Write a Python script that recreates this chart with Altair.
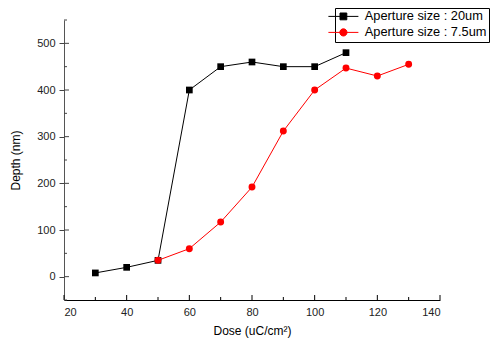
import altair as alt
import pandas as pd

dose_a = [30, 40, 50, 60, 70, 80, 90, 100, 110]
depth_a = [8, 20, 35, 400, 450, 460, 450, 450, 480]
dose_b = [50, 60, 70, 80, 90, 100, 110, 120, 130]
depth_b = [35, 60, 117, 192, 312, 400, 447, 430, 455]
series_names = ["Aperture size : 20um", "Aperture size : 7.5um"]
series_colors = ["#000000", "#ff0000"]

x_major = [20, 40, 60, 80, 100, 120, 140]
x_minor = [30, 50, 70, 90, 110, 130]
y_major = [0, 100, 200, 300, 400, 500]
y_minor = [-50, 50, 150, 250, 350, 450, 550]

df = pd.DataFrame({
    "dose": dose_a + dose_b,
    "depth": depth_a + depth_b,
    "series": [series_names[0]] * len(dose_a) + [series_names[1]] * len(dose_b),
})

FONT = "Liberation Sans"
W, H = 376, 280

xs = alt.Scale(domain=[20, 140], nice=False, zero=False)
ys = alt.Scale(domain=[-50, 550], nice=False, zero=False)

x_axis = alt.Axis(values=x_major, ticks=False, labelPadding=6, labelFontSize=11,
                  labelColor="#222", domainColor="#000", titleFontSize=12, titleFontWeight="normal",
                  titlePadding=8, titleColor="#000", grid=False, labelFont=FONT, titleFont=FONT,
                  title="Dose (uC/cm²)")
y_axis = alt.Axis(values=y_major, tickSize=5, tickColor="#444", labelPadding=4, labelFontSize=11,
                  labelColor="#222", domainColor="#555", titleFontSize=12, titleFontWeight="normal",
                  titlePadding=14, titleColor="#000", grid=False, labelFont=FONT, titleFont=FONT,
                  title="Depth (nm)")

base = alt.Chart(df)

# colour scale without an explicit domain so its (disabled) legend is not merged with the real one
lines = base.mark_line(strokeWidth=1).encode(
    x=alt.X("dose:Q", scale=xs, axis=x_axis),
    y=alt.Y("depth:Q", scale=ys, axis=y_axis),
    color=alt.Color("series:N", scale=alt.Scale(range=series_colors), legend=None),
    detail="series:N",
)

squares = base.transform_filter(alt.datum.series == series_names[0]).mark_square(
    size=45, opacity=1, color=series_colors[0]
).encode(x="dose:Q", y="depth:Q")

circles = base.transform_filter(alt.datum.series == series_names[1]).mark_circle(
    size=48, opacity=1, color=series_colors[1]
).encode(x="dose:Q", y="depth:Q")

sq_path = "M-3.75,0H3.75M-0.85,-0.85H0.85V0.85H-0.85Z"
ci_path = "M-3.75,0H3.75M-0.9,0A0.9,0.9,0,1,1,0.9,0A0.9,0.9,0,1,1,-0.9,0Z"

leg = alt.Legend(title=None, orient="none", legendX=271, legendY=-12,
                 strokeColor="#000", fillColor="#fff", padding=2,
                 labelFont=FONT, labelFontSize=12.8, labelColor="#000",
                 symbolSize=64, symbolStrokeWidth=1, labelOffset=15, rowPadding=2)

legend_layer = base.transform_filter("false").mark_point(filled=True, opacity=1, strokeWidth=1).encode(
    x="dose:Q", y="depth:Q",
    fill=alt.Fill("series:N", scale=alt.Scale(domain=series_names, range=series_colors), legend=leg),
    stroke=alt.Stroke("series:N", scale=alt.Scale(domain=series_names, range=series_colors), legend=leg),
    shape=alt.Shape("series:N", scale=alt.Scale(domain=series_names, range=[sq_path, ci_path]), legend=leg),
)

xt_major = pd.DataFrame({"v": x_major})
xt_minor = pd.DataFrame({"v": x_minor})
yt_major = pd.DataFrame({"v": y_major})
yt_minor = pd.DataFrame({"v": y_minor})

xtick_major = alt.Chart(xt_major).mark_rule(color="#000", strokeWidth=1).encode(
    x=alt.X("v:Q", scale=xs), y=alt.value(H), y2=alt.value(H - 5))
xtick_minor = alt.Chart(xt_minor).mark_rule(color="#000", strokeWidth=1).encode(
    x=alt.X("v:Q", scale=xs), y=alt.value(H), y2=alt.value(H - 3))
ytick_major = alt.Chart(yt_major).mark_rule(color="#444", strokeWidth=1).encode(
    y=alt.Y("v:Q", scale=ys), x=alt.value(0), x2=alt.value(5))
ytick_minor = alt.Chart(yt_minor).mark_rule(color="#444", strokeWidth=1).encode(
    y=alt.Y("v:Q", scale=ys), x=alt.value(0), x2=alt.value(3))

chart = alt.layer(
    xtick_major, xtick_minor, ytick_major, ytick_minor,
    lines, squares, circles, legend_layer
).properties(
    width=W, height=H,
    autosize=alt.AutoSizeParams(type="none"),
    padding={"left": 56, "top": 12, "right": 52, "bottom": 40},
).configure_view(stroke=None).configure_axis(domainWidth=1)

chart.save("out.html", embed_options={"renderer": "svg", "actions": False})
